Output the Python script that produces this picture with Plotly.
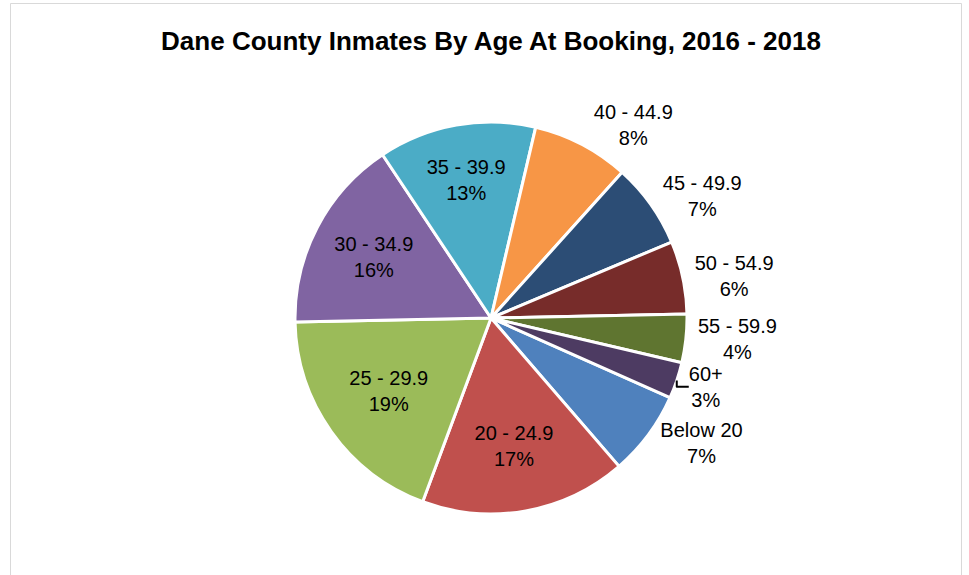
import plotly.graph_objects as go

age_groups = ["Below 20", "20 - 24.9", "25 - 29.9", "30 - 34.9", "35 - 39.9",
              "40 - 44.9", "45 - 49.9", "50 - 54.9", "55 - 59.9", "60+"]
share_pct = [7, 17, 19, 16, 13, 8, 7, 6, 4, 3]
slice_colors = ["#4F81BD", "#C0504D", "#9BBB59", "#8064A2", "#4BACC6",
                "#F79646", "#2C4D75", "#772C2A", "#5F7530", "#4D3B62"]
text_positions = ["outside", "inside", "inside", "inside", "inside",
                  "outside", "outside", "outside", "outside", "outside"]
title_text = "Dane County Inmates By Age At Booking, 2016 - 2018"

W, H = 969, 575
cx, cy, r = 491, 318, 196
FONT = "Liberation Sans, Arial, sans-serif"

fig = go.Figure(go.Pie(
    labels=age_groups,
    values=share_pct,
    sort=False,
    direction="clockwise",
    rotation=114,
    marker=dict(colors=slice_colors, line=dict(color="white", width=3)),
    textposition=text_positions,
    texttemplate="%{label}<br>%{percent:.0%}",
    insidetextorientation="horizontal",
    textfont=dict(family=FONT, size=20, color="black"),
    showlegend=False,
    hoverinfo="label+percent",
    domain=dict(x=[(cx - r) / W, (cx + r) / W], y=[1 - (cy + r) / H, 1 - (cy - r) / H]),
))

fig.update_layout(
    width=W, height=H,
    margin=dict(l=0, r=0, t=0, b=0),
    paper_bgcolor="white",
    plot_bgcolor="white",
    title=dict(text="<b>" + title_text + "</b>", x=491 / W, xanchor="center",
               y=1 - 41 / H, yanchor="middle", yref="container",
               font=dict(family=FONT, size=26, color="black")),
    shapes=[dict(type="rect", xref="paper", yref="paper",
                 x0=10.5 / W, x1=961.5 / W, y0=-0.05, y1=1 - 3.5 / H,
                 line=dict(color="#D9D9D9", width=1), layer="below")],
)

fig.write_html("out.html", config={"displayModeBar": False},
               post_script="document.body.style.margin='0px';")
